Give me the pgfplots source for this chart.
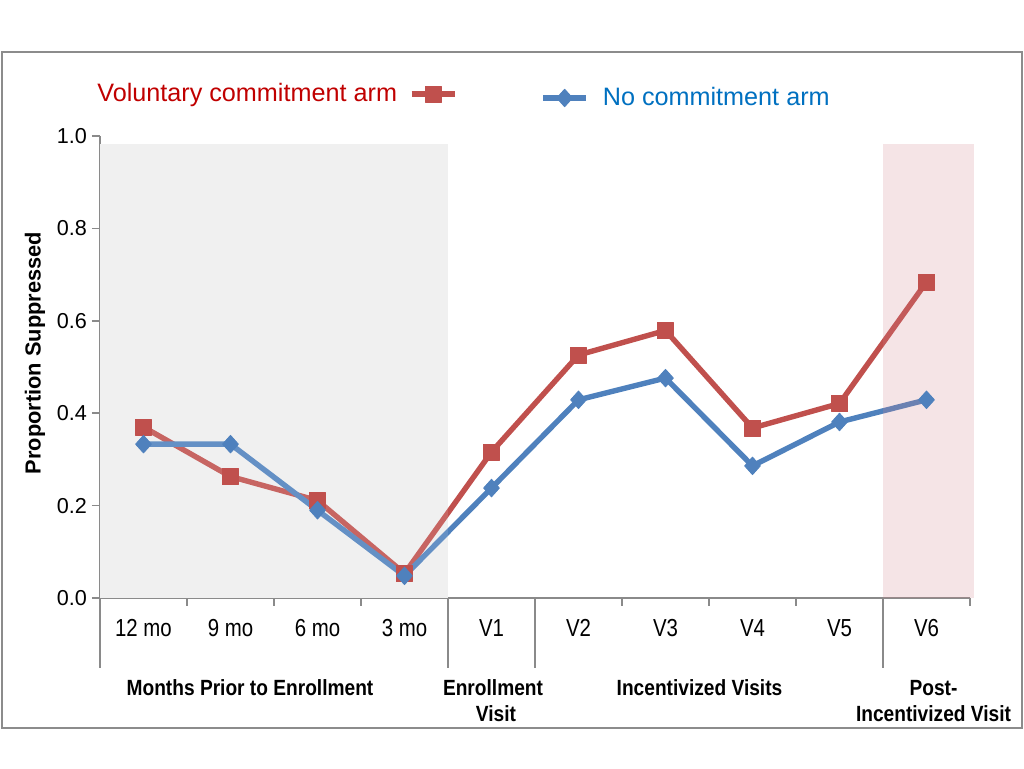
\documentclass[border=0pt]{standalone}
\usepackage{fontspec}
\setmainfont{Liberation Sans}
\newfontfamily\narrow[FakeStretch=0.83]{Liberation Sans}
\newfontfamily\narrowb[FakeStretch=0.87]{Liberation Sans Bold}
\usepackage{pgfplots}
\pgfplotsset{compat=1.18}

\definecolor{redline}{HTML}{C0504D}
\definecolor{blueline}{HTML}{4F81BD}
\definecolor{redtext}{HTML}{C00000}
\definecolor{bluetext}{HTML}{0070C0}
\definecolor{axisgray}{HTML}{8A8A8A}
\definecolor{framegray}{HTML}{8C8C8C}
\definecolor{shadegray}{HTML}{EFEFEF}
\definecolor{shadepink}{RGB}{210,130,140}

\pgfplotsset{
  legend image code/.code={\draw[mark repeat=2,mark phase=2,#1] plot coordinates {(0pt,0pt) (10.75pt,0pt) (21.5pt,0pt)};},
  redstyle/.style={redline, line width=2.7pt, line join=round, mark=square*, mark size=4pt, mark options={solid, line width=0.4pt, fill=redline}},
  bluestyle/.style={blueline, line width=2.7pt, line join=round, mark=diamond*, mark size=4.4pt, mark options={solid, line width=0.4pt, fill=blueline, xscale=1.2}},
}

\begin{document}
\begin{tikzpicture}
\useasboundingbox (0,0) rectangle (512pt,384pt);
\draw[framegray, line width=1pt] (1pt,20pt) rectangle (511pt,358pt);

\begin{axis}[
  at={(50pt,85pt)}, anchor=south west,
  width=435pt, height=231pt, scale only axis,
  xmin=-0.5, xmax=9.5, ymin=0, ymax=1,
  clip=false,
  axis lines=left,
  axis line style={-, draw=axisgray, line width=0.8pt},
  tick align=outside,
  major tick length=4pt,
  ytick={0,0.2,0.4,0.6,0.8,1},
  ytick style={draw=axisgray, line width=0.8pt},
  yticklabel style={font=\fontsize{10.8}{13}\selectfont, xshift=1pt, /pgf/number format/fixed, /pgf/number format/fixed zerofill, /pgf/number format/precision=1},
  /pgf/number format/assume math mode=true,
  xtick={0,1,2,3,4,5,6,7,8,9},
  xticklabels={12 mo, 9 mo, 6 mo, 3 mo, V1, V2, V3, V4, V5, V6},
  xtick style={draw=none},
  xticklabel style={font=\narrow\fontsize{12.3}{14}\selectfont, anchor=base, yshift=-15pt},
  legend plot pos=right,
  legend style={at={(-0.0081,1.0909)}, anchor=west, draw=none, fill=none, inner sep=0pt,
    column sep=4pt, font=\fontsize{12.6}{15}\selectfont, text=redtext},
]
% months-prior shading behind the lines
\fill[shadegray] (axis cs:-0.5,0) rectangle (axis cs:3.5,0.983);

\addplot[redstyle] coordinates {
  (0,0.370) (1,0.263) (2,0.211) (3,0.053) (4,0.316)
  (5,0.526) (6,0.579) (7,0.368) (8,0.421) (9,0.684)
};
\addlegendentry{Voluntary commitment arm}
\addplot[bluestyle] coordinates {
  (0,0.333) (1,0.333) (2,0.190) (3,0.048) (4,0.238)
  (5,0.429) (6,0.476) (7,0.286) (8,0.381) (9,0.429)
};

% light veil over the months-prior lines, pink post-incentive band on top
\fill[white, opacity=0.12] (axis cs:-0.5,0) rectangle (axis cs:3.5,0.983);
\fill[shadepink, opacity=0.22] (axis cs:8.5,0) rectangle (axis cs:9.55,0.983);

% category boundary ticks and group separators
\pgfplotsinvokeforeach{0.5,1.5,2.5,5.5,6.5,7.5,9.5}{
  \draw[axisgray, line width=0.8pt] (axis cs:#1,0) -- ([yshift=-4pt]axis cs:#1,0);
}
\pgfplotsinvokeforeach{-0.5,3.5,4.5,8.5}{
  \draw[axisgray, line width=0.8pt] (axis cs:#1,0) -- ([yshift=-35pt]axis cs:#1,0);
}
\end{axis}

\begin{axis}[
  at={(50pt,85pt)}, anchor=south west,
  width=435pt, height=231pt, scale only axis,
  hide axis, xmin=0, xmax=1, ymin=0, ymax=1,
  legend plot pos=left,
  legend style={at={(0.5058,1.0823)}, anchor=west, draw=none, fill=none, inner sep=0pt,
    column sep=5pt, font=\fontsize{12.6}{15}\selectfont, text=bluetext},
]
\addlegendimage{bluestyle}
\addlegendentry{No commitment arm}
\end{axis}

\node[rotate=90, font=\bfseries\fontsize{10.9}{13}\selectfont] at (17.5pt,207.5pt) {Proportion Suppressed};

\begin{scope}[every node/.style={font=\narrowb\fontsize{11}{13}\selectfont, anchor=base, inner sep=0pt}]
\node at (125pt,36.5pt) {Months Prior to Enrollment};
\node at (246.5pt,36.5pt) {Enrollment};
\node at (248pt,23.5pt) {Visit};
\node at (349.75pt,36.5pt) {Incentivized Visits};
\node at (466.75pt,36.5pt) {Post-};
\node at (466.75pt,23.5pt) {Incentivized Visit};
\end{scope}
\end{tikzpicture}
\end{document}
